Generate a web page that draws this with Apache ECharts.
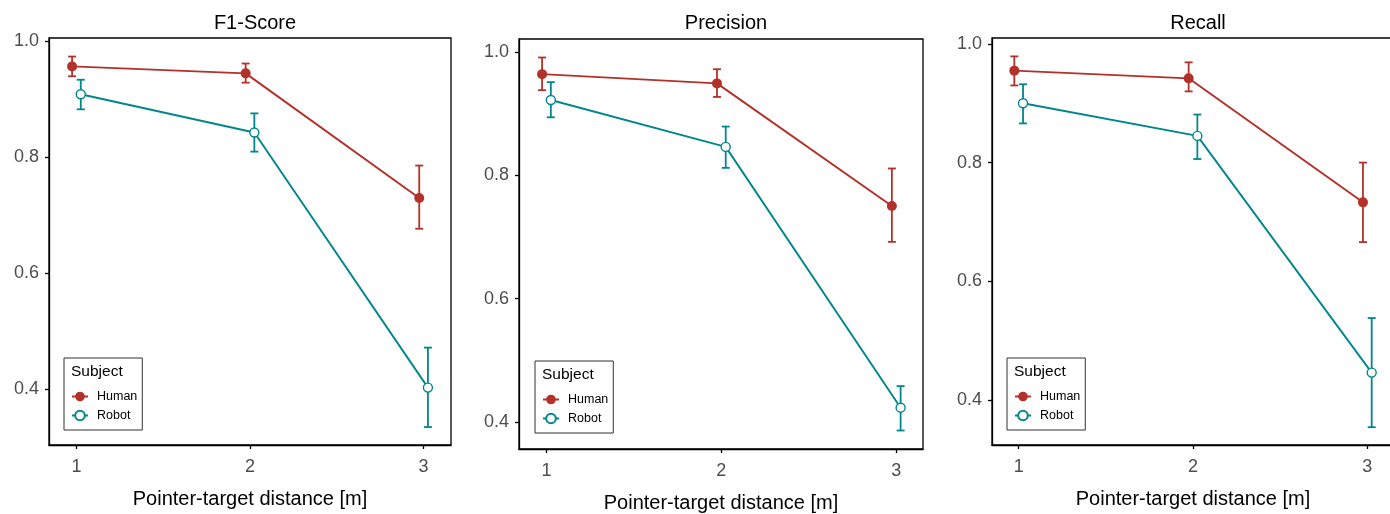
<!DOCTYPE html>
<html>
<head>
<meta charset="utf-8">
<script src="https://cdn.jsdelivr.net/npm/echarts@6/dist/echarts.min.js"></script>
<style>
html,body{margin:0;padding:0;background:#fff;}
#chart{width:1390px;height:514px;}
</style>
</head>
<body>
<div id="chart"></div>
<script>
// ---- data ----
const distances = [1, 2, 3];
const panelTitles = ['F1-Score', 'Precision', 'Recall'];
const subjects = ['Human', 'Robot'];
const yTicks = [0.4, 0.6, 0.8, 1.0];
const xTicks = [1, 2, 3];

const f1HumanMean = [0.957, 0.945, 0.730];
const f1HumanLow  = [0.940, 0.929, 0.677];
const f1HumanHigh = [0.974, 0.962, 0.786];
const f1RobotMean = [0.909, 0.843, 0.403];
const f1RobotLow  = [0.883, 0.810, 0.335];
const f1RobotHigh = [0.934, 0.876, 0.472];

const precHumanMean = [0.964, 0.949, 0.750];
const precHumanLow  = [0.938, 0.927, 0.692];
const precHumanHigh = [0.991, 0.972, 0.811];
const precRobotMean = [0.922, 0.846, 0.423];
const precRobotLow  = [0.894, 0.812, 0.386];
const precRobotHigh = [0.951, 0.879, 0.458];

const recHumanMean = [0.955, 0.942, 0.733];
const recHumanLow  = [0.930, 0.920, 0.666];
const recHumanHigh = [0.979, 0.969, 0.800];
const recRobotMean = [0.900, 0.845, 0.446];
const recRobotLow  = [0.866, 0.806, 0.354];
const recRobotHigh = [0.932, 0.881, 0.538];

// ---- layout / style ----
const RED = '#B2312A';
const TEAL = '#00868B';
const FONT = 'Liberation Sans, Arial, Helvetica, sans-serif';
const DODGE = 0.025;

const panels = [
  { grid: {left: 49, top: 38, width: 402, height: 407}, yMin: 0.304, yMax: 1.006, xMin: 0.842, xMax: 3.158,
    legend: {left: 64, top: 358}, human: [f1HumanMean, f1HumanLow, f1HumanHigh], robot: [f1RobotMean, f1RobotLow, f1RobotHigh] },
  { grid: {left: 519, top: 39, width: 404, height: 410}, yMin: 0.356, yMax: 1.021, xMin: 0.843, xMax: 3.153,
    legend: {left: 535, top: 361}, human: [precHumanMean, precHumanLow, precHumanHigh], robot: [precRobotMean, precRobotLow, precRobotHigh] },
  { grid: {left: 992, top: 38, width: 402, height: 407}, yMin: 0.324, yMax: 1.010, xMin: 0.847, xMax: 3.153,
    legend: {left: 1007, top: 358}, human: [recHumanMean, recHumanLow, recHumanHigh], robot: [recRobotMean, recRobotLow, recRobotHigh] }
];

function errorBarSeries(idx, name, x, low, high, color) {
  return {
    type: 'custom',
    name: name + ' error',
    xAxisIndex: idx, yAxisIndex: idx,
    data: x.map((v, i) => [v, low[i], high[i]]),
    encode: {x: 0, y: [1, 2]},
    z: 2,
    silent: true,
    clip: false,
    renderItem: function (params, api) {
      const xv = api.value(0);
      const lo = api.coord([xv, api.value(1)]);
      const hi = api.coord([xv, api.value(2)]);
      const hw = 4;
      const style = {stroke: color, lineWidth: 1.8};
      return {
        type: 'group',
        children: [
          {type: 'line', shape: {x1: lo[0], y1: lo[1], x2: hi[0], y2: hi[1]}, style: style},
          {type: 'line', shape: {x1: lo[0] - hw, y1: lo[1], x2: lo[0] + hw, y2: lo[1]}, style: style},
          {type: 'line', shape: {x1: hi[0] - hw, y1: hi[1], x2: hi[0] + hw, y2: hi[1]}, style: style}
        ]
      };
    }
  };
}

const option = {
  animation: false,
  backgroundColor: '#fff',
  textStyle: {fontFamily: FONT},
  title: [], grid: [], xAxis: [], yAxis: [], legend: [], series: [], graphic: []
};

panels.forEach((p, idx) => {
  const cx = p.grid.left + p.grid.width / 2;
  option.title.push({
    text: panelTitles[idx], left: cx, top: 8, textAlign: 'center',
    textStyle: {fontFamily: FONT, fontSize: 20, fontWeight: 'normal', color: '#000'}
  });
  option.grid.push(Object.assign({show: true, borderColor: '#000', borderWidth: 1.3, backgroundColor: 'transparent',
    containLabel: false, outerBoundsMode: 'none'}, p.grid));
  option.xAxis.push({
    type: 'value', gridIndex: idx, min: p.xMin, max: p.xMax,
    name: 'Pointer-target distance [m]', nameLocation: 'middle', nameGap: 44,
    nameTextStyle: {fontFamily: FONT, fontSize: 20, color: '#000'},
    splitLine: {show: false},
    axisLine: {show: true, onZero: false, lineStyle: {color: '#000', width: 1.3}},
    axisTick: {show: true, length: 4, lineStyle: {color: '#000', width: 1.3}, customValues: xTicks},
    axisLabel: {show: true, margin: 13, fontFamily: FONT, fontSize: 18, color: '#4D4D4D', customValues: xTicks,
      formatter: v => String(Math.round(v))}
  });
  option.yAxis.push({
    type: 'value', gridIndex: idx, min: p.yMin, max: p.yMax,
    splitLine: {show: false},
    axisLine: {show: true, onZero: false, lineStyle: {color: '#000', width: 1.3}},
    axisTick: {show: true, length: 4, lineStyle: {color: '#000', width: 1.3}, customValues: yTicks},
    axisLabel: {show: true, margin: 10, fontFamily: FONT, fontSize: 18, color: '#4D4D4D', customValues: yTicks,
      formatter: v => v.toFixed(1)}
  });
  const xh = distances.map(d => d - DODGE);
  const xr = distances.map(d => d + DODGE);
  option.series.push({
    type: 'line', name: 'Human', xAxisIndex: idx, yAxisIndex: idx, z: 3,
    data: xh.map((x, i) => [x, p.human[0][i]]),
    symbol: 'circle', symbolSize: 10, color: RED,
    itemStyle: {color: RED, borderColor: RED, borderWidth: 0},
    lineStyle: {color: RED, width: 1.9}
  });
  option.series.push({
    type: 'line', name: 'Robot', xAxisIndex: idx, yAxisIndex: idx, z: 4,
    data: xr.map((x, i) => [x, p.robot[0][i]]),
    symbol: 'circle', symbolSize: 9, color: TEAL,
    itemStyle: {color: '#fff', borderColor: TEAL, borderWidth: 1.4},
    lineStyle: {color: TEAL, width: 1.9}
  });
  option.series.push(errorBarSeries(idx, 'Human', xh, p.human[1], p.human[2], RED));
  option.series.push(errorBarSeries(idx, 'Robot', xr, p.robot[1], p.robot[2], TEAL));
  option.legend.push({
    data: subjects.map(s => ({name: s})),
    orient: 'vertical', left: p.legend.left, top: p.legend.top,
    padding: [32, 5, 8, 7], itemGap: 6, itemWidth: 16, itemHeight: 12,
    borderColor: '#333', borderWidth: 1, backgroundColor: '#fff',
    selectedMode: false,
    textStyle: {fontFamily: FONT, fontSize: 12.5, color: '#000', padding: [0, 0, 0, 4]}
  });
  option.graphic.push({
    type: 'text', left: p.legend.left + 7, top: p.legend.top + 6, z: 100,
    style: {text: 'Subject', font: '15.5px ' + FONT, fill: '#000'}
  });
});

const chart = echarts.init(document.getElementById('chart'), null, {renderer: 'canvas'});
chart.setOption(option);
</script>
</body>
</html>
